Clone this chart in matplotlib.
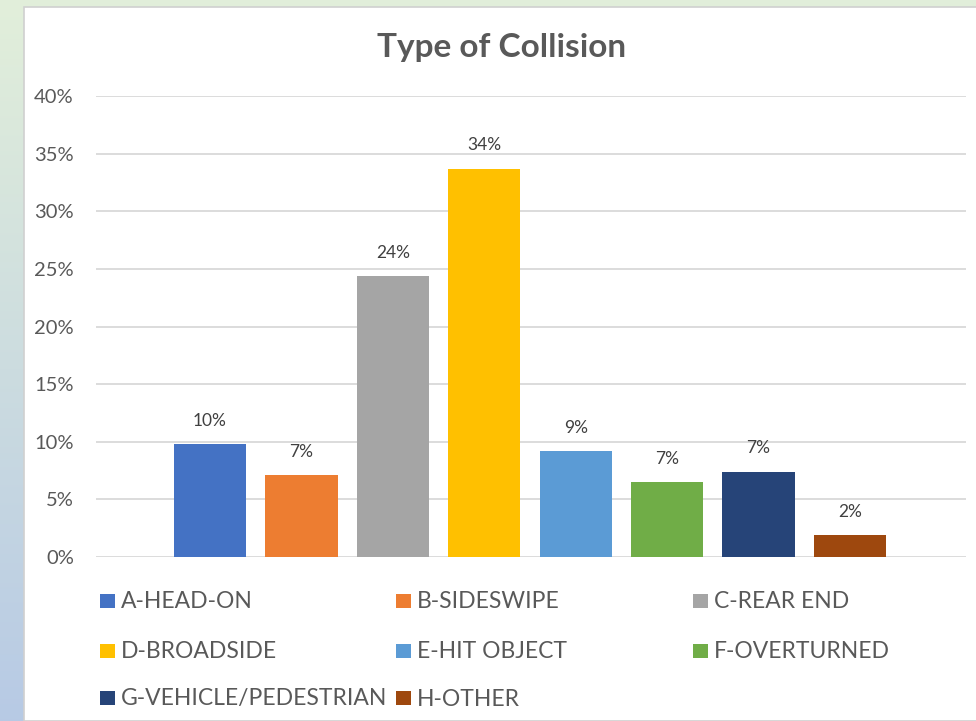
import numpy as np
import matplotlib.pyplot as plt
from matplotlib.patches import Rectangle

# data
categories = ["A-HEAD-ON", "B-SIDESWIPE", "C-REAR END", "D-BROADSIDE",
              "E-HIT OBJECT", "F-OVERTURNED", "G-VEHICLE/PEDESTRIAN", "H-OTHER"]
shares = [9.8, 7.1, 24.4, 33.7, 9.2, 6.5, 7.4, 1.9]
labels = ["10%", "7%", "24%", "34%", "9%", "7%", "7%", "2%"]
yticks = [0, 5, 10, 15, 20, 25, 30, 35, 40]
colors = ["#4472C4", "#ED7D31", "#A5A5A5", "#FFC000",
          "#5B9BD5", "#70AD47", "#264478", "#9E480E"]

txt = "#595959"
plt.rcParams['font.family'] = ['Lato', 'DejaVu Sans']

W, H = 976, 721
fig = plt.figure(figsize=(W / 100, H / 100), dpi=100)
fig.patch.set_facecolor("#e2efda")

# gradient strip on the left (green to blue)
bg = fig.add_axes([0, 0, 1, 1], zorder=-10)
grad = np.linspace(0, 1, 256).reshape(-1, 1)
top = np.array([0.886, 0.937, 0.855])
bot = np.array([0.718, 0.792, 0.898])
img = top[None, None, :] * (1 - grad[:, :, None]) + bot[None, None, :] * grad[:, :, None]
bg.imshow(img, aspect="auto", extent=[0, 1, 0, 1], origin="upper")
bg.add_patch(Rectangle((24 / W, 0), 1, 1 - 7 / H, facecolor="white",
                       edgecolor="#d0d0d0", linewidth=1.2))
bg.set_xlim(0, 1)
bg.set_ylim(0, 1)
bg.axis("off")

ax = fig.add_axes([96 / W, 1 - 557 / H, (966 - 96) / W, (557 - 96) / H])
ax.set_facecolor("none")
x = np.arange(len(categories))
bars = ax.bar(x, shares, width=0.79, color=colors, zorder=3)

for b, lab in zip(bars, labels):
    ax.annotate(lab, (b.get_x() + b.get_width() / 2, b.get_height()),
                xytext=(0, 11), textcoords="offset points",
                ha="center", va="bottom", fontsize=12.5, color="#404040")

ax.set_ylim(0, 40)
ax.set_xlim(-1.247, 8.27)
ax.set_yticks(yticks)
ax.set_yticklabels([f"{t}%" for t in yticks], fontsize=14.5, color=txt)
ax.set_xticks([])
ax.tick_params(axis="y", length=0, pad=16)
ax.grid(axis="y", color="#d9d9d9", linewidth=1.3, zorder=0)
for s in ax.spines.values():
    s.set_visible(False)

fig.text(502 / W, 1 - 48 / H, "Type of Collision", ha="center", va="center",
         fontsize=24, fontweight="bold", color=txt)

# legend, laid out like Excel: three columns, row by row
col_x = [100, 396, 693]
row_y = [601, 651, 698]
for i, (name, c) in enumerate(zip(categories, colors)):
    cx = col_x[i % 3]
    cy = row_y[i // 3]
    fig.patches.append(Rectangle((cx / W, 1 - (cy + 7) / H), 15 / W, 14 / H,
                                 facecolor=c, transform=fig.transFigure, figure=fig))
    fig.text((cx + 21) / W, 1 - (cy + 1) / H, name, ha="left", va="center",
             fontsize=16.5, color=txt)

fig.savefig("out.png", dpi=100)
